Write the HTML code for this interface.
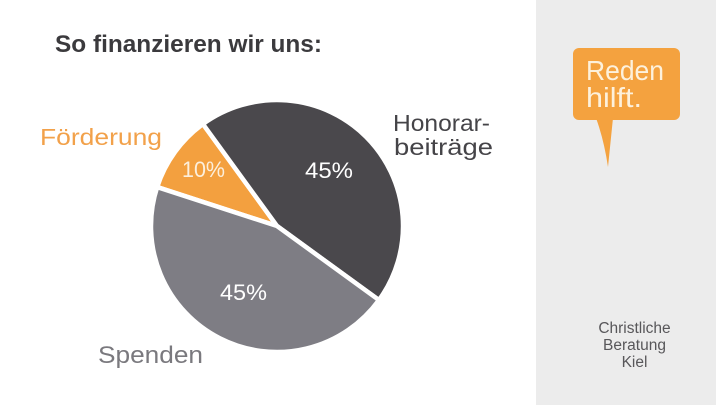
<!DOCTYPE html>
<html><head><meta charset="utf-8"><style>
html,body{margin:0;padding:0;background:#fff;}
svg{display:block;}
text{font-family:"Liberation Sans","DejaVu Sans",sans-serif;}
</style></head><body>
<svg width="716" height="405" viewBox="0 0 716 405" xmlns="http://www.w3.org/2000/svg">
<rect x="0" y="0" width="716" height="405" fill="#ffffff"/>
<rect x="536" y="0" width="180" height="405" fill="#ececec"/>
<text x="55" y="52" font-size="24" font-weight="bold" fill="#3b3a3d" textLength="267" lengthAdjust="spacingAndGlyphs">So finanzieren wir uns:</text>
<g stroke="#ffffff" stroke-width="4.5" stroke-linejoin="round">
<path d="M277,226 L157.16,187.07 A126,126 0 0 1 202.94,124.06 Z" fill="#f3a03f"/>
<path d="M277,226 L202.94,124.06 A126,126 0 0 1 378.94,300.06 Z" fill="#4a484c"/>
<path d="M277,226 L378.94,300.06 A126,126 0 0 1 157.16,187.07 Z" fill="#7e7d84"/>
</g>
<text x="182" y="177" font-size="22" fill="#fcefdc" textLength="43" lengthAdjust="spacingAndGlyphs">10%</text>
<text x="305" y="178" font-size="22" fill="#ffffff" textLength="48" lengthAdjust="spacingAndGlyphs">45%</text>
<text x="220" y="300" font-size="22" fill="#ffffff" textLength="47" lengthAdjust="spacingAndGlyphs">45%</text>
<text x="40" y="145" font-size="23" fill="#f2a14a" textLength="122" lengthAdjust="spacingAndGlyphs">Förderung</text>
<text x="393" y="131" font-size="23" fill="#454448" textLength="97" lengthAdjust="spacingAndGlyphs">Honorar-</text>
<text x="394" y="155" font-size="23" fill="#454448" textLength="99" lengthAdjust="spacingAndGlyphs">beiträge</text>
<text x="98" y="363" font-size="24" fill="#7a797e" textLength="105" lengthAdjust="spacingAndGlyphs">Spenden</text>
<rect x="573" y="48" width="107" height="72" rx="6" ry="6" fill="#f4a23f"/>
<path d="M596,118 L613,118 L608,167 Q604,140 596,118 Z" fill="#f4a23f"/>
<text x="586" y="80" font-size="28" fill="#fdf1dc" textLength="78" lengthAdjust="spacingAndGlyphs">Reden</text>
<text x="586" y="107" font-size="28" fill="#fdf1dc" textLength="56" lengthAdjust="spacingAndGlyphs">hilft.</text>
<text x="634.5" y="333" font-size="15.5" fill="#58575a" text-anchor="middle">Christliche</text>
<text x="634.5" y="350" font-size="15.5" fill="#58575a" text-anchor="middle">Beratung</text>
<text x="634.5" y="367" font-size="15.5" fill="#58575a" text-anchor="middle">Kiel</text>
</svg>
</body></html>
